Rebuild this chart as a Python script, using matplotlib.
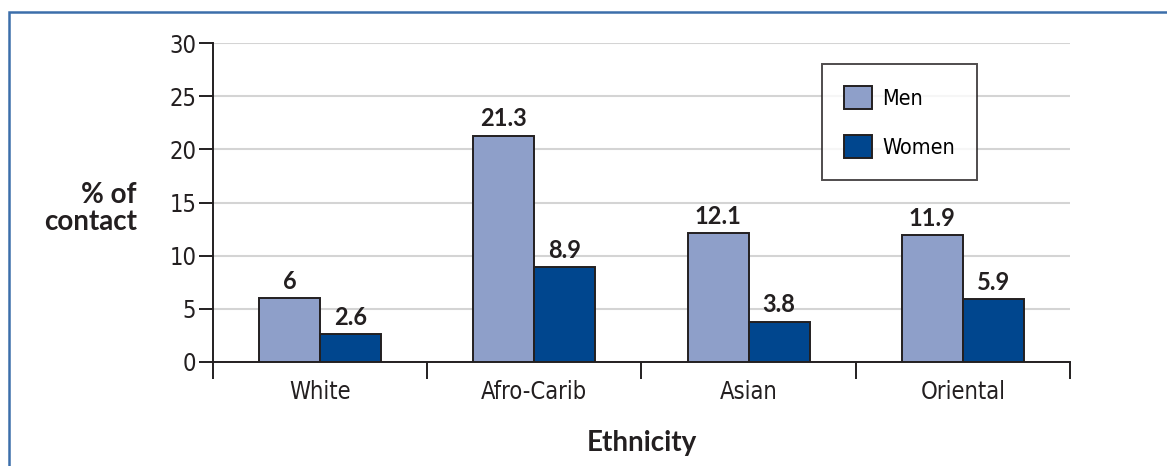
import matplotlib
matplotlib.use("Agg")
import matplotlib.pyplot as plt
import matplotlib.patches as mpatches
import numpy as np

# ── Data ────────────────────────────────────────────────────────────
categories = ["White", "Afro-Carib", "Asian", "Oriental"]
men = [6, 21.3, 12.1, 11.9]
women = [2.6, 8.9, 3.8, 5.9]
series_names = ["Men", "Women"]
y_ticks = [0, 5, 10, 15, 20, 25, 30]

# ── Style ───────────────────────────────────────────────────────────
MEN_C = "#8E9FC9"
WOMEN_C = "#00468E"
GRID_C = "#D4D4D4"
TEXT_C = "#231F20"
FRAME_C = "#3C6EAA"

NARROW = dict(family=["DejaVu Sans"], stretch="condensed", size=17)
BOLD = ["Lato", "DejaVu Sans"]

fig = plt.figure(figsize=(11.67, 4.66), dpi=100, facecolor="white")
ax = fig.add_axes([0.1825, 0.2232, 0.7344, 0.6845])

x = np.arange(len(categories))
w = 0.285
ax.bar(x - w / 2, men, w, color=MEN_C, edgecolor=TEXT_C, linewidth=1.4,
       label=series_names[0], zorder=3)
ax.bar(x + w / 2, women, w, color=WOMEN_C, edgecolor=TEXT_C, linewidth=1.4,
       label=series_names[1], zorder=3)

# value labels above each bar
for xs, vals in ((x - w / 2, men), (x + w / 2, women)):
    for xi, v in zip(xs, vals):
        ax.annotate(f"{v:g}", (xi, v), xytext=(0, 4), textcoords="offset points",
                    ha="center", va="bottom", fontsize=17, fontweight="bold",
                    color=TEXT_C, family=BOLD)

ax.set_xlim(-0.5, len(categories) - 0.5)
ax.set_ylim(0, 30)

# y axis
ax.set_yticks(y_ticks)
ax.set_yticklabels([str(t) for t in y_ticks], color=TEXT_C, **NARROW)
ax.tick_params(axis="y", length=10, width=1.4, color=TEXT_C, pad=2)
ax.yaxis.grid(True, color=GRID_C, linewidth=1.5, zorder=0)
ax.set_axisbelow(True)

# x axis: ticks at category boundaries, labels centred
ax.set_xticks(np.arange(len(categories) + 1) - 0.5)
ax.set_xticklabels([])
ax.set_xticks(x, minor=True)
ax.set_xticklabels(categories, minor=True, color=TEXT_C, **NARROW)
ax.tick_params(axis="x", which="major", length=12, width=1.4, color=TEXT_C,
               direction="out")
ax.tick_params(axis="x", which="minor", length=0, pad=13)

for side in ("top", "right"):
    ax.spines[side].set_visible(False)
for side in ("left", "bottom"):
    ax.spines[side].set_linewidth(1.4)
    ax.spines[side].set_color(TEXT_C)

ax.set_ylabel("% of\ncontact", rotation=0, fontsize=20, fontweight="bold",
              family=BOLD, color=TEXT_C, ha="right", va="center",
              linespacing=1.05)
ax.yaxis.set_label_coords(-0.0887, 0.48)
ax.set_xlabel("Ethnicity", fontsize=20, fontweight="bold", family=BOLD,
              color=TEXT_C, labelpad=19)

leg = ax.legend(loc="upper left", bbox_to_anchor=(0.7106, 0.934),
                frameon=True, fancybox=False, edgecolor=TEXT_C,
                prop=dict(NARROW, size=15.5), handlelength=1.3,
                handleheight=1.3, handletextpad=0.5, labelspacing=1.2,
                borderpad=1.0, borderaxespad=0)
leg.get_frame().set_linewidth(1.4)
for h in leg.legend_handles:
    h.set_linewidth(1.4)

# surrounding frame
fig.add_artist(mpatches.Rectangle((9 / 1167, -0.05), 1.1, (466 - 12) / 466 + 0.05,
                                  transform=fig.transFigure, fill=False,
                                  edgecolor=FRAME_C, linewidth=1.8))

fig.savefig("out.png", dpi=100, facecolor="white")
